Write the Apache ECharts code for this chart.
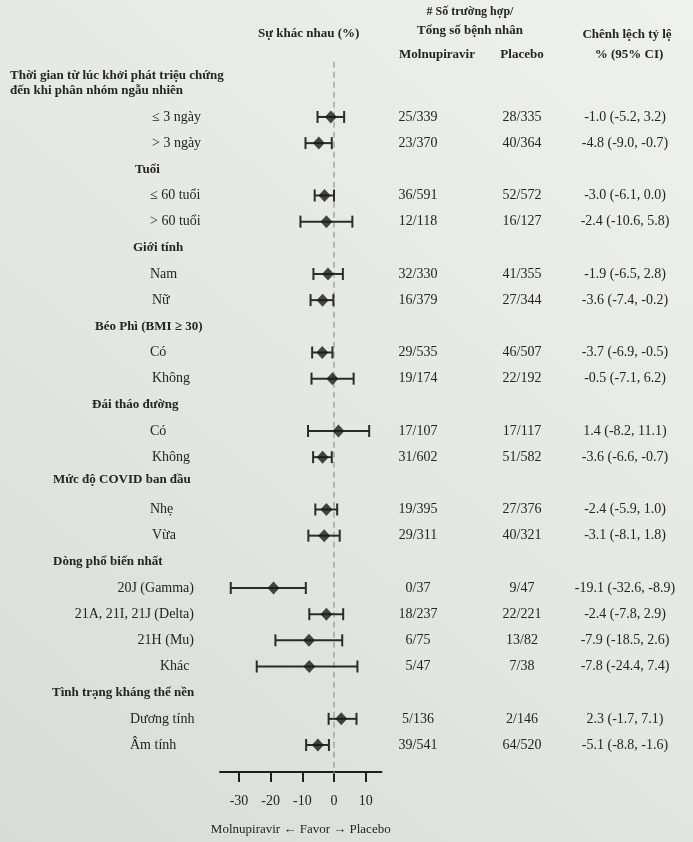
<!DOCTYPE html>
<html>
<head>
<meta charset="utf-8">
<script src="https://cdn.jsdelivr.net/npm/echarts@6/dist/echarts.min.js"></script>
<style>
  html, body { margin: 0; padding: 0; }
  #chart { width: 693px; height: 842px; }
</style>
</head>
<body>
<div id="chart"></div>
<script>
// Rows of the forest plot, top to bottom (group headings have no values)
const rowLabels = [
  'Thời gian từ lúc khởi phát triệu chứng\nđến khi phân nhóm ngẫu nhiên',
  '≤ 3 ngày', '> 3 ngày',
  'Tuổi', '≤ 60 tuổi', '> 60 tuổi',
  'Giới tính', 'Nam', 'Nữ',
  'Béo Phì (BMI ≥ 30)', 'Có', 'Không',
  'Đái tháo đường', 'Có', 'Không',
  'Mức độ COVID ban đầu', 'Nhẹ', 'Vừa',
  'Dòng phổ biến nhất', '20J (Gamma)', '21A, 21I, 21J (Delta)', '21H (Mu)', 'Khác',
  'Tình trạng kháng thể nền', 'Dương tính', 'Âm tính'
];
const isHeading = [
  true, false, false,
  true, false, false,
  true, false, false,
  true, false, false,
  true, false, false,
  true, false, false,
  true, false, false, false, false,
  true, false, false
];
// Risk difference (%) with 95% CI
const riskDiff = [null, -1.0, -4.8, null, -3.0, -2.4, null, -1.9, -3.6, null, -3.7, -0.5, null, 1.4, -3.6, null, -2.4, -3.1, null, -19.1, -2.4, -7.9, -7.8, null, 2.3, -5.1];
const ciLow    = [null, -5.2, -9.0, null, -6.1, -10.6, null, -6.5, -7.4, null, -6.9, -7.1, null, -8.2, -6.6, null, -5.9, -8.1, null, -32.6, -7.8, -18.5, -24.4, null, -1.7, -8.8];
const ciHigh   = [null, 3.2, -0.7, null, 0.0, 5.8, null, 2.8, -0.2, null, -0.5, 6.2, null, 11.1, -0.7, null, 1.0, 1.8, null, -8.9, 2.9, 2.6, 7.4, null, 7.1, -1.6];
// Cases / total patients
const molnupiravirCases = [null, '25/339', '23/370', null, '36/591', '12/118', null, '32/330', '16/379', null, '29/535', '19/174', null, '17/107', '31/602', null, '19/395', '29/311', null, '0/37', '18/237', '6/75', '5/47', null, '5/136', '39/541'];
const placeboCases      = [null, '28/335', '40/364', null, '52/572', '16/127', null, '41/355', '27/344', null, '46/507', '22/192', null, '17/117', '51/582', null, '27/376', '40/321', null, '9/47', '22/221', '13/82', '7/38', null, '2/146', '64/520'];
// Axis ticks
const tickValues = [-30, -20, -10, 0, 10];
const axisTitle = 'Molnupiravir ← Favor → Placebo';

// Text placement of each row label: [x, align, vertical shift]
const labelLayout = [
  [10, 'left', -8],
  [152, 'left', 0], [152, 'left', 0],
  [135, 'left', 0], [150, 'left', 0], [150, 'left', 0],
  [133, 'left', 0], [150, 'left', 0], [152, 'left', 0],
  [95, 'left', 0], [150, 'left', 0], [152, 'left', 0],
  [92, 'left', 0], [150, 'left', 0], [152, 'left', 0],
  [53, 'left', -4], [150, 'left', 0], [152, 'left', 0],
  [53, 'left', 0], [194, 'right', 0], [194, 'right', 0], [194, 'right', 0], [160, 'left', 0],
  [52, 'left', 0], [130, 'left', 0], [130, 'left', 0]
];

const FONT = "'Liberation Serif', 'DejaVu Serif', serif";
const INK = '#242424';
const COL_MOL = 418, COL_PLA = 522, COL_CI = 625;

const fmt = v => v.toFixed(1);
const rowIdx = rowLabels.map((_, i) => i);
const estRows = rowIdx.filter(i => riskDiff[i] !== null);

const chart = echarts.init(document.getElementById('chart'), null, { renderer: 'canvas' });

const option = {
  animation: false,
  backgroundColor: {
    type: 'linear', x: 0, y: 1, x2: 1, y2: 0,
    colorStops: [
      { offset: 0, color: '#d9dbd8' },
      { offset: 0.45, color: '#e4e6e3' },
      { offset: 1, color: '#eff1ee' }
    ]
  },
  grid: { left: 220, right: 311.5, top: 77.7, height: 680.4, outerBoundsMode: 'none', containLabel: false },
  xAxis: {
    type: 'value', min: -36, max: 15, offset: 14,
    splitLine: { show: false },
    axisLine: { show: true, onZero: false, lineStyle: { color: '#1f1f1f', width: 2 } },
    axisTick: { show: true, length: 10, customValues: tickValues, lineStyle: { color: '#1f1f1f', width: 2 } },
    axisLabel: { customValues: tickValues, margin: 22, fontFamily: FONT, fontSize: 14, color: INK },
    name: axisTitle, nameLocation: 'middle', nameGap: 51,
    nameTextStyle: { fontFamily: FONT, fontSize: 13, color: INK }
  },
  yAxis: { type: 'category', data: rowIdx, inverse: true, show: false },
  graphic: [
    { type: 'text', left: 258, top: 27, style: { text: 'Sự khác nhau (%)', font: `bold 13px ${FONT}`, fill: INK } },
    { type: 'text', x: 470, y: 12, style: { text: '# Số trường hợp/', font: `bold 12px ${FONT}`, fill: INK, align: 'center', verticalAlign: 'middle' } },
    { type: 'text', x: 470, y: 31, style: { text: 'Tổng số bệnh nhân', font: `bold 13px ${FONT}`, fill: INK, align: 'center', verticalAlign: 'middle' } },
    { type: 'text', x: 437, y: 55, style: { text: 'Molnupiravir', font: `bold 13px ${FONT}`, fill: INK, align: 'center', verticalAlign: 'middle' } },
    { type: 'text', x: 522, y: 55, style: { text: 'Placebo', font: `bold 13px ${FONT}`, fill: INK, align: 'center', verticalAlign: 'middle' } },
    { type: 'text', x: 627, y: 35, style: { text: 'Chênh lệch tỷ lệ', font: `bold 13px ${FONT}`, fill: INK, align: 'center', verticalAlign: 'middle' } },
    { type: 'text', x: 629, y: 55, style: { text: '% (95% CI)', font: `bold 13px ${FONT}`, fill: INK, align: 'center', verticalAlign: 'middle' } }
  ],
  series: [
    {
      // dashed line of no difference
      type: 'custom', silent: true, clip: false, z: 1,
      data: [[0, 0]], encode: { x: 0, y: 1 },
      renderItem: (params, api) => {
        const x = api.coord([0, 0])[0];
        const cs = params.coordSys;
        return {
          type: 'line',
          shape: { x1: x, y1: cs.y - 16, x2: x, y2: cs.y + cs.height + 16 },
          style: { stroke: '#9a9c99', lineWidth: 1.3, lineDash: [6, 4] }
        };
      }
    },
    {
      // confidence intervals with end caps
      type: 'custom', silent: true, clip: false, z: 2,
      data: estRows.map(i => [ciLow[i], ciHigh[i], i]),
      encode: { x: [0, 1], y: 2 },
      renderItem: (params, api) => {
        const a = api.coord([api.value(0), api.value(2)]);
        const b = api.coord([api.value(1), api.value(2)]);
        const st = { stroke: '#2b2b2b', lineWidth: 2 };
        return {
          type: 'group',
          children: [
            { type: 'line', shape: { x1: a[0], y1: a[1], x2: b[0], y2: b[1] }, style: st },
            { type: 'line', shape: { x1: a[0], y1: a[1] - 6, x2: a[0], y2: a[1] + 6 }, style: st },
            { type: 'line', shape: { x1: b[0], y1: b[1] - 6, x2: b[0], y2: b[1] + 6 }, style: st }
          ]
        };
      }
    },
    {
      // point estimates
      type: 'scatter', silent: true, z: 3,
      symbol: 'diamond', symbolSize: [12, 13],
      itemStyle: { color: '#1a1a1a' },
      data: estRows.map(i => [riskDiff[i], i])
    },
    {
      // row labels and table columns
      type: 'custom', silent: true, clip: false, z: 4,
      data: rowIdx.map(i => [0, i]), encode: { x: 0, y: 1 },
      renderItem: (params, api) => {
        const i = api.value(1);
        const y = api.coord([0, i])[1];
        const [lx, align, dy] = labelLayout[i];
        const heading = isHeading[i];
        const children = [{
          type: 'text',
          style: {
            x: lx, y: y + dy, text: rowLabels[i], align, verticalAlign: 'middle',
            font: heading ? `bold 13px ${FONT}` : `14px ${FONT}`,
            lineHeight: 15, fill: INK
          }
        }];
        if (riskDiff[i] !== null) {
          const cell = (x, t) => ({
            type: 'text',
            style: { x, y, text: t, align: 'center', verticalAlign: 'middle', font: `14px ${FONT}`, fill: INK }
          });
          children.push(cell(COL_MOL, molnupiravirCases[i]));
          children.push(cell(COL_PLA, placeboCases[i]));
          children.push(cell(COL_CI, `${fmt(riskDiff[i])} (${fmt(ciLow[i])}, ${fmt(ciHigh[i])})`));
        }
        return { type: 'group', children };
      }
    }
  ]
};

chart.setOption(option);
</script>
</body>
</html>
